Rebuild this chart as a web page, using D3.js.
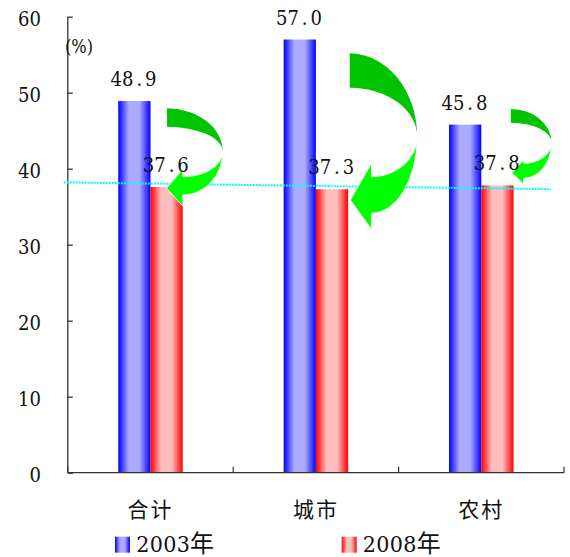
<!DOCTYPE html>
<html>
<head>
<meta charset="utf-8">
<script src="https://cdn.jsdelivr.net/npm/d3@7"></script>
<style>
  html, body { margin: 0; padding: 0; background: #fff; }
  svg { display: block; }
</style>
</head>
<body>
<svg id="chart" width="570" height="557"></svg>
<script>
// ---- data ----
const categories = ["合计", "城市", "农村"];
const seriesNames = ["2003年", "2008年"];
const values2003 = [48.9, 57.0, 45.8];
const values2008 = [37.6, 37.3, 37.8];
const yTicks = [0, 10, 20, 30, 40, 50, 60];
const unitLabel = "(%)";
const levelLine = [38.2, 37.3];   // dotted level line: value at left end, value at right end

// ---- layout ----
const svg = d3.select("#chart");
const numFont = "DejaVu Serif Condensed, DejaVu Serif, Liberation Serif, serif";
const cjkFont = "Noto Sans CJK SC, Noto Sans, sans-serif";

const y = d3.scaleLinear().domain([0, 60]).range([472.7, 16.7]);
const x0 = d3.scaleBand().domain(categories).range([67.8, 564])
  .paddingInner(0.61).paddingOuter(0.305);
const x1 = d3.scaleBand().domain(seriesNames).range([0, x0.bandwidth()]);

// ---- gradients (dark edges, pale centre) ----
const defs = svg.append("defs");
function barGradient(id, dark, light) {
  const g = defs.append("linearGradient").attr("id", id)
    .attr("x1", "0%").attr("x2", "100%").attr("y1", "0%").attr("y2", "0%");
  [[0, dark], [0.33, light], [0.66, light], [1, dark]].forEach(([o, c]) =>
    g.append("stop").attr("offset", o).attr("stop-color", c));
}
barGradient("g2003", "#0000ff", "#aaaaff");
barGradient("g2008", "#ff0000", "#ffbcbc");
const fills = { "2003年": "url(#g2003)", "2008年": "url(#g2008)" };

// text laid out in fixed-width character cells (half-width numerals)
function cellText(parent, str, ax, baseY, o) {
  const chars = Array.from(str);
  const w = chars.length * o.cell;
  const start = o.align === "end" ? ax - w : o.align === "start" ? ax : ax - w / 2;
  const t = parent.append("text")
    .attr("font-family", numFont)
    .attr("font-size", o.size)
    .attr("fill", "#111")
    .attr("text-anchor", "middle");
  chars.forEach((c, i) => {
    t.append("tspan")
      .attr("x", start + (i + 0.5) * o.cell)
      .attr("y", baseY)
      .text(c);
  });
  return t;
}

// ---- bars ----
const rows = categories.map((c, i) => ({
  cat: c,
  items: [
    { s: seriesNames[0], v: values2003[i] },
    { s: seriesNames[1], v: values2008[i] }
  ]
}));

const groups = svg.append("g").selectAll("g").data(rows).join("g")
  .attr("transform", d => `translate(${x0(d.cat)},0)`);
groups.selectAll("rect").data(d => d.items).join("rect")
  .attr("x", d => x1(d.s))
  .attr("y", d => y(d.v))
  .attr("width", x1.bandwidth())
  .attr("height", d => y(0) - y(d.v))
  .attr("fill", d => fills[d.s]);

// ---- axes ----
const axisColor = "#333";
const yAxis = d3.axisLeft(y).tickValues(yTicks).tickSize(-5).tickFormat("");
const yAxisG = svg.append("g")
  .attr("transform", `translate(${x0.range()[0]},0)`)
  .call(yAxis);
yAxisG.select(".domain").attr("stroke", axisColor).attr("stroke-width", 1.3)
  .attr("d", `M0,${y(60)}V${y(0)}`);
yAxisG.selectAll(".tick line").attr("stroke", axisColor).attr("stroke-width", 1.3);

const xLeft = x0.range()[0], xRight = x0.range()[1];
svg.append("line")
  .attr("x1", xLeft).attr("x2", xRight)
  .attr("y1", y(0)).attr("y2", y(0))
  .attr("stroke", axisColor).attr("stroke-width", 1.3);
d3.range(categories.length + 1).forEach(i => {
  const xx = xLeft + i * x0.step();
  svg.append("line")
    .attr("x1", xx).attr("x2", xx)
    .attr("y1", y(0)).attr("y2", y(0) - 6)
    .attr("stroke", axisColor).attr("stroke-width", 1.2);
});

// y tick labels
const labelsG = svg.append("g");
yTicks.forEach(t => {
  cellText(labelsG, String(t), 41, y(t) + 9, { cell: 11.5, size: 20, align: "end" });
});

// unit
svg.append("text")
  .attr("x", 79).attr("y", 53)
  .attr("text-anchor", "middle")
  .attr("font-family", numFont)
  .attr("font-size", 18)
  .attr("fill", "#111")
  .text(unitLabel);

// category labels
svg.append("g").selectAll("text").data(categories).join("text")
  .attr("y", 516.5)
  .attr("text-anchor", "middle")
  .attr("font-family", cjkFont)
  .attr("font-size", 21)
  .attr("fill", "#111")
  .each(function (d) {
    const chars = Array.from(d);
    const sel = d3.select(this);
    const cx = x0(d) + x0.bandwidth() / 2 - 1;
    const step = 23;
    chars.forEach((c, i) => {
      sel.append("tspan")
        .attr("x", cx + (i - (chars.length - 1) / 2) * step)
        .text(c);
    });
  });

// ---- dotted level line ----
svg.append("line")
  .attr("x1", xLeft - 4).attr("x2", 551)
  .attr("y1", y(levelLine[0])).attr("y2", y(levelLine[1]))
  .attr("stroke", "#00ffff")
  .attr("stroke-width", 2)
  .attr("stroke-dasharray", "2,1");

// ---- curved arrows from the 2003 level down to the 2008 bar ----
// offsets are pixels relative to the top-right corner of each 2008 bar
const turnArrows = [
  { L: -15.7, T: -78.6, B: -60.2, R: 40, M: -35.2, H: 0,    sT: -10.2, sB: 8.1,  bT: -17.6, bB: 19.1, tx: -16,  ty: 1.4 },
  { L: 1.6,   T: -135.9, B: -101.5, R: 69, M: -52.5, H: 23.3, sT: -12.5, sB: 24.1, bT: -25.9, bB: 40.1, tx: 2.3, ty: 10.8 },
  { L: -2.7,  T: -76.4, B: -62.7, R: 38, M: -42.7, H: 10,   sT: -22,   sB: -7.1, bT: -25.4, bB: -1.4, tx: -1.7, ty: -12.7 }
];

const arrowsG = svg.append("g");
rows.forEach((r, i) => {
  const a = turnArrows[i];
  const ax = x0(r.cat) + x1(seriesNames[1]) + x1.bandwidth();
  const ay = y(values2008[i]);
  const P = (dx, dy) => `${ax + dx},${ay + dy}`;
  // back (upper) half
  const back = `M${P(a.L, a.T)}` +
    `A${a.R - a.L},${a.M - a.T} 0 0 1 ${P(a.R, a.M)}` +
    `A${a.R - a.L},${a.M - a.B} 0 0 0 ${P(a.L, a.B)}Z`;
  // front (lower) half with arrowhead
  const front = `M${P(a.R, a.M)}` +
    `A${a.R - a.H},${a.sB - a.M} 0 0 1 ${P(a.H, a.sB)}` +
    `L${P(a.H, a.bB)}L${P(a.tx, a.ty)}L${P(a.H, a.bT)}L${P(a.H, a.sT)}` +
    `A${a.R - a.H},${a.sT - a.M} 0 0 0 ${P(a.R, a.M)}Z`;
  arrowsG.append("path").attr("d", back).attr("fill", "#00c400");
  arrowsG.append("path").attr("d", front).attr("fill", "#00ff00")
    .attr("stroke", "#fff").attr("stroke-width", 0.8);
});

// ---- value labels ----
const valG = svg.append("g");
rows.forEach(r => {
  r.items.forEach(it => {
    const cx = x0(r.cat) + x1(it.s) + x1.bandwidth() / 2 - 0.8;
    cellText(valG, it.v.toFixed(1), cx, y(it.v) - 15, { cell: 11.5, size: 20, align: "middle" });
  });
});

// ---- legend ----
const legendItems = [
  { s: seriesNames[0], x: 115 },
  { s: seriesNames[1], x: 341.7 }
];
const legG = svg.append("g");
legendItems.forEach(li => {
  legG.append("rect")
    .attr("x", li.x).attr("y", 536.7)
    .attr("width", 15).attr("height", 16)
    .attr("fill", fills[li.s]);
  const digits = li.s.replace("年", "");
  cellText(legG, digits, li.x + 21, 551.5, { cell: 13.5, size: 23, align: "start" });
  legG.append("text")
    .attr("x", li.x + 21 + 66).attr("y", 551.5)
    .attr("text-anchor", "middle")
    .attr("font-family", cjkFont)
    .attr("font-size", 24)
    .attr("fill", "#111")
    .text("年");
});
</script>
</body>
</html>
